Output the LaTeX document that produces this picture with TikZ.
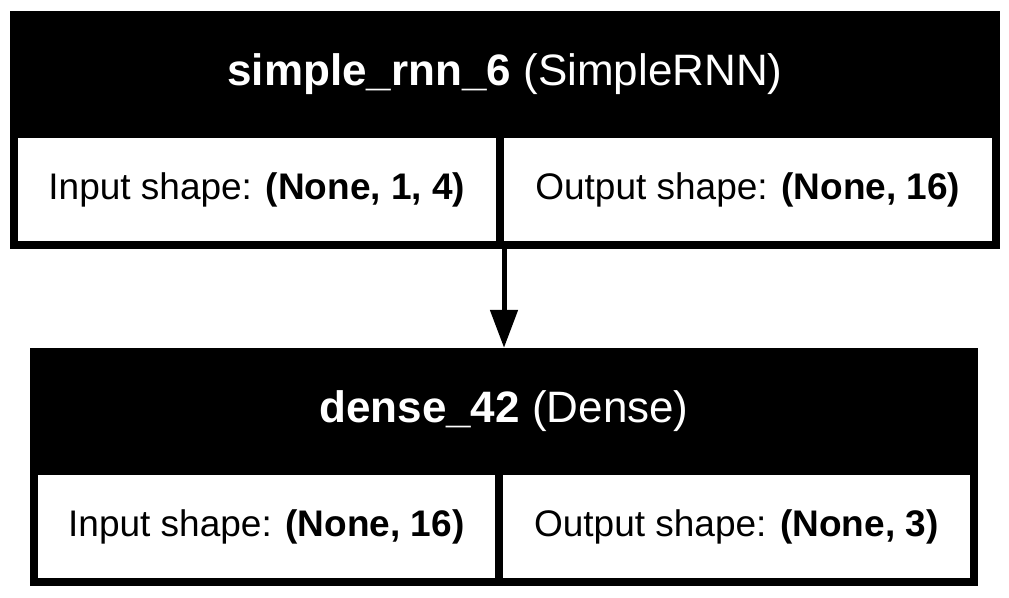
\documentclass[tikz,border=0pt]{standalone}
\usepackage{fontspec}
\setmainfont{Liberation Sans}
\usepackage{tikz}
\usetikzlibrary{positioning, arrows.meta}
\tikzstyle{head} = [rectangle, fill=black, text=white, minimum height=127pt, text centered, font=\fontsize{44}{53}\selectfont]
\tikzstyle{cell} = [rectangle, draw=black, fill=white, line width=8pt, minimum height=110.5pt, text centered, font=\fontsize{37}{44}\selectfont]
\tikzstyle{arrow} = [line width=5pt, -{Triangle[width=27pt, length=38pt]}]

\begin{document}
\begin{tikzpicture}[x=1pt, y=1pt]
\useasboundingbox (0,0) rectangle (1009,-597);

% simple_rnn_6
\node(rnn_head) [head, minimum width=990pt] at (505,-74.5) {\textbf{simple\_rnn\_6} (SimpleRNN)};
\node(rnn_in) [cell, minimum width=486pt, below right=-8pt and 0pt of rnn_head.south west] {Input shape: \textbf{(None, 1, 4)}};
\node(rnn_out) [cell, minimum width=496pt, right=-8pt of rnn_in] {Output shape: \textbf{(None, 16)}};

% dense_42
\node(dense_head) [head, minimum width=948pt] at (504,-411.5) {\textbf{dense\_42} (Dense)};
\node(dense_in) [cell, minimum width=465pt, below right=-8pt and 0pt of dense_head.south west] {Input shape: \textbf{(None, 16)}};
\node(dense_out) [cell, minimum width=475pt, right=-8pt of dense_in] {Output shape: \textbf{(None, 3)}};

\draw[arrow] (dense_head.north |- rnn_out.south) -- (dense_head.north);
\end{tikzpicture}
\end{document}
